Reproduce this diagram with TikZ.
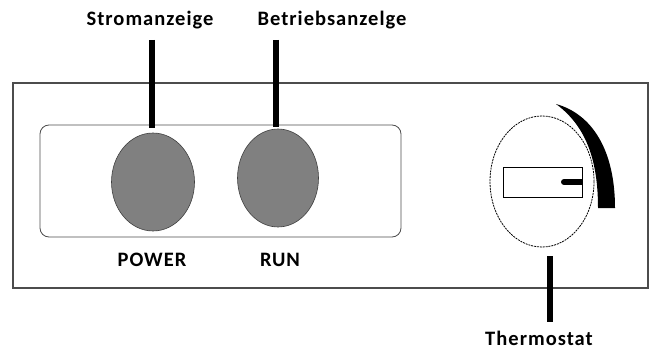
\documentclass[tikz,border=0pt]{standalone}
\usepackage{fontspec}
\setmainfont{Carlito}
\newfontfamily\lblfont[LetterSpace=5]{Carlito}
\usetikzlibrary{shapes.geometric}
\begin{document}
\begin{tikzpicture}[x=1pt,y=-1pt,
  lbl/.style={font=\lblfont\fontsize{20.5}{24}\selectfont\bfseries, anchor=base, inner sep=0pt},
  lead/.style={line width=6pt, black},
  lamp/.style={ellipse, draw=black!75, line width=0.6pt, fill=black!50, inner sep=0pt},
  frame/.style={draw=black!70, line width=1.1pt}]
\useasboundingbox (0,0) rectangle (652,350);
% outer panel
\draw[frame] (13,83) rectangle (648,288);
% inner rounded panel
\draw[draw=black!70, line width=0.8pt, rounded corners=9pt] (40,125) rectangle (401,237);
% lamps
\node[lamp, minimum width=83pt, minimum height=98pt] (power) at (153,182) {};
\node[lamp, minimum width=81pt, minimum height=98pt] (run) at (278,178) {};
% labels
\node[lbl] (strom) at (150,26) {Stromanzeige};
\node[lbl] (betr) at (332,26) {Betriebsanzelge};
\node[lbl] (powerl) at (152,266) {POWER};
\node[lbl] (runl) at (280,266) {RUN};
\node[lbl] (thermo) at (539,345) {Thermostat};
% thermostat dial
\node[ellipse, draw=black, line width=0.8pt, dash pattern=on 2pt off 0.9pt,
      minimum width=104pt, minimum height=131pt, inner sep=0pt] (dial) at (542,181.5) {};
\node[draw=black, line width=1pt, minimum width=79pt, minimum height=30pt, inner sep=0pt] (win) at (542.5,182) {};
\coordinate (knobL) at (564,182);
\draw[line width=6pt, line cap=round] (knobL) -- ([xshift=-3pt]win.east);
\draw[line width=6pt] ([xshift=-3.5pt]win.east) -- ([xshift=-0.5pt]win.east);
% scale arc
\fill[black] (556,104) .. controls (592,114) and (615,150) .. (615,208)
  -- (598,208) .. controls (598,160) and (586,126) .. (556,104) -- cycle;
% leader lines
\coordinate (s1) at (152,40);
\coordinate (s2) at (152,128);
\coordinate (b1) at (276,40);
\coordinate (b2) at (276,127);
\coordinate (t1) at (550,256);
\coordinate (t2) at (550,322);
\draw[lead] (s1) -- (s2);
\draw[lead] (b1) -- (b2);
\draw[lead] (t1) -- (t2);
\end{tikzpicture}
\end{document}
